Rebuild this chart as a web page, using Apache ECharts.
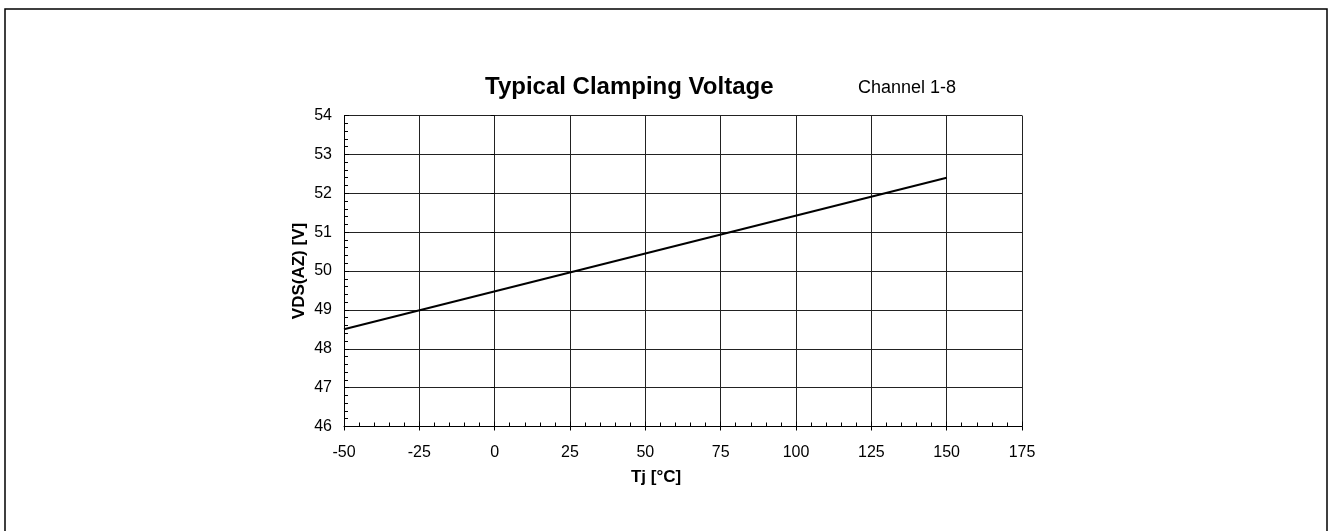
<!DOCTYPE html>
<html><head><meta charset="utf-8">
<script src="https://cdn.jsdelivr.net/npm/echarts@6/dist/echarts.min.js"></script>
<style>html,body{margin:0;padding:0;background:#fff}#c{width:1330px;height:531px}</style>
</head><body><div id="c"></div>
<script>
const titleText = 'Typical Clamping Voltage';
const subText = 'Channel 1-8';
const xName = 'Tj [°C]';
const yName = 'VDS(AZ) [V]';
const xMin = -50, xMax = 175, xStep = 25;
const yMin = 46, yMax = 54, yStep = 1;
const tj = [-50, 150];
const vds = [48.5, 52.4];

const font = 'Liberation Sans, Arial, sans-serif';
const chart = echarts.init(document.getElementById('c'), null, {renderer: 'canvas'});
const grid = {left: 344, right: 308, top: 115.5, bottom: 104.5, containLabel: false};
chart.setOption({
  animation: false,
  textStyle: {fontFamily: font},
  graphic: [{type: 'rect', shape: {x: 5, y: 9, width: 1322, height: 540}, style: {fill: null, stroke: '#000', lineWidth: 1.5}, silent: true}],
  title: [
    {text: titleText, left: 480, top: 70, textStyle: {fontFamily: font, fontSize: 24, fontWeight: 'bold', color: '#000'}},
    {text: subText, left: 853, top: 74, textStyle: {fontFamily: font, fontSize: 18, fontWeight: 'normal', color: '#000'}}
  ],
  grid: grid,
  xAxis: [{
    type: 'value', min: xMin, max: xMax, interval: xStep,
    name: xName, nameLocation: 'middle', nameGap: 42, nameMoveOverlap: false,
    nameTextStyle: {fontFamily: font, fontSize: 17, fontWeight: 'bold', color: '#000', padding: [0, 54, 0, 0]},
    axisLine: {show: true, onZero: false, lineStyle: {color: '#000', width: 1}},
    axisTick: {show: true, inside: true, length: 5, lineStyle: {color: '#000'}},
    minorTick: {show: true, splitNumber: 5, length: 4, lineStyle: {color: '#000'}},
    axisLabel: {fontFamily: font, fontSize: 16, color: '#000', margin: 18},
    splitLine: {show: true, lineStyle: {color: '#222', width: 1}}
  }, {
    type: 'value', min: xMin, max: xMax, interval: xStep, position: 'bottom',
    axisLine: {show: false}, axisTick: {show: true, inside: false, length: 4, lineStyle: {color: '#000'}},
    axisLabel: {show: false}, splitLine: {show: false}
  }],
  yAxis: [{
    type: 'value', min: yMin, max: yMax, interval: yStep,
    name: yName, nameLocation: 'middle', nameGap: 36, nameMoveOverlap: false,
    nameTextStyle: {fontFamily: font, fontSize: 17, fontWeight: 'bold', color: '#000'},
    axisLine: {show: true, onZero: false, lineStyle: {color: '#000', width: 1}},
    axisTick: {show: true, inside: true, length: 5, lineStyle: {color: '#000'}},
    minorTick: {show: true, splitNumber: 5, length: 4, lineStyle: {color: '#000'}},
    axisLabel: {fontFamily: font, fontSize: 16, color: '#000', margin: 12},
    splitLine: {show: true, lineStyle: {color: '#222', width: 1}}
  }, {
    type: 'value', min: yMin, max: yMax, interval: yStep, position: 'left',
    axisLine: {show: false}, axisTick: {show: true, inside: false, length: 4, lineStyle: {color: '#000'}},
    axisLabel: {show: false}, splitLine: {show: false}
  }],
  series: [{
    type: 'line', xAxisIndex: 0, yAxisIndex: 0,
    data: tj.map((t, i) => [t, vds[i]]),
    showSymbol: false, symbol: 'none',
    lineStyle: {color: '#000', width: 2}
  }]
});
</script></body></html>
